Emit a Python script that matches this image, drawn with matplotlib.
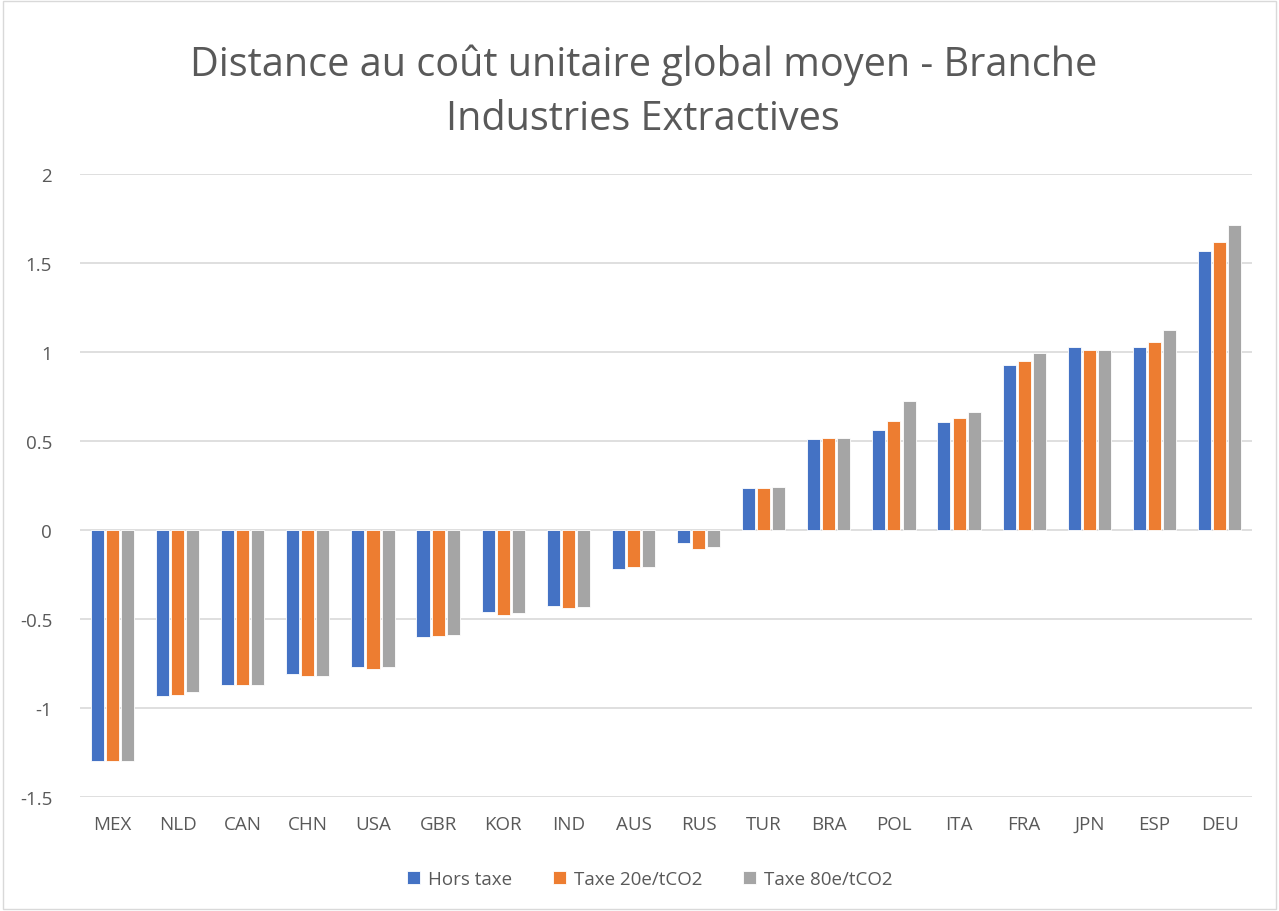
import matplotlib
matplotlib.use("Agg")
import matplotlib.pyplot as plt
import numpy as np

categories = ["MEX", "NLD", "CAN", "CHN", "USA", "GBR", "KOR", "IND", "AUS", "RUS",
              "TUR", "BRA", "POL", "ITA", "FRA", "JPN", "ESP", "DEU"]
hors_taxe = [-1.30, -0.93, -0.87, -0.81, -0.77, -0.60, -0.46, -0.425, -0.22, -0.07,
             0.235, 0.51, 0.56, 0.605, 0.93, 1.03, 1.03, 1.567]
taxe_20 = [-1.30, -0.925, -0.87, -0.82, -0.78, -0.595, -0.475, -0.44, -0.21, -0.105,
           0.235, 0.52, 0.613, 0.627, 0.951, 1.013, 1.055, 1.621]
taxe_80 = [-1.30, -0.91, -0.87, -0.82, -0.77, -0.588, -0.467, -0.43, -0.21, -0.098,
           0.243, 0.52, 0.724, 0.662, 0.994, 1.013, 1.125, 1.712]
series_names = ["Hors taxe", "Taxe 20e/tCO2", "Taxe 80e/tCO2"]
colors = ["#4472C4", "#ED7D31", "#A5A5A5"]
yticks = [-1.5, -1, -0.5, 0, 0.5, 1, 1.5, 2]
ytick_labels = ["-1.5", "-1", "-0.5", "0", "0.5", "1", "1.5", "2"]

plt.rcParams['font.family'] = ['Open Sans', 'DejaVu Sans']
text_color = "#595959"

fig = plt.figure(figsize=(12.79, 9.12), dpi=100)
ax = fig.add_axes([0.0625, 0.125, 0.9165, 0.683])

x = np.arange(len(categories))
width = 0.2
pitch = 0.232
for i, (vals, name, c) in enumerate(zip([hors_taxe, taxe_20, taxe_80], series_names, colors)):
    ax.bar(x + (i - 1) * pitch, vals, width=width, color=c, label=name,
           edgecolor="white", linewidth=0.6, zorder=3)

ax.set_xlim(-0.5, len(categories) - 0.5)
ax.set_ylim(-1.5, 2)
ax.set_yticks(yticks)
ax.set_yticklabels(ytick_labels)
ax.set_xticks(x)
ax.set_xticklabels(categories)
ax.tick_params(axis='both', length=0, colors=text_color, labelsize=13.5)
ax.tick_params(axis='x', pad=13)
ax.tick_params(axis='y', pad=20)
for lbl in ax.get_yticklabels():
    lbl.set_horizontalalignment('right')
ax.yaxis.grid(True, color="#D9D9D9", linewidth=1.2, zorder=0)
for s in ax.spines.values():
    s.set_visible(False)

fig.text(0.503, 0.929, "Distance au coût unitaire global moyen - Branche",
         ha='center', va='center', fontsize=28.5, color=text_color)
fig.text(0.503, 0.869, "Industries Extractives",
         ha='center', va='center', fontsize=28.5, color=text_color)

leg = fig.legend(loc='center', bbox_to_anchor=(0.508, 0.035), ncol=3, frameon=False,
                 fontsize=13.5, handlelength=0.7, handleheight=0.7, columnspacing=2.2,
                 handletextpad=0.4)
for t in leg.get_texts():
    t.set_color(text_color)

border = plt.Rectangle((0.002, 0.002), 0.996, 0.996, transform=fig.transFigure,
                       fill=False, edgecolor="#D9D9D9", linewidth=1)
fig.add_artist(border)

fig.savefig("out.png", dpi=100, facecolor="white")
